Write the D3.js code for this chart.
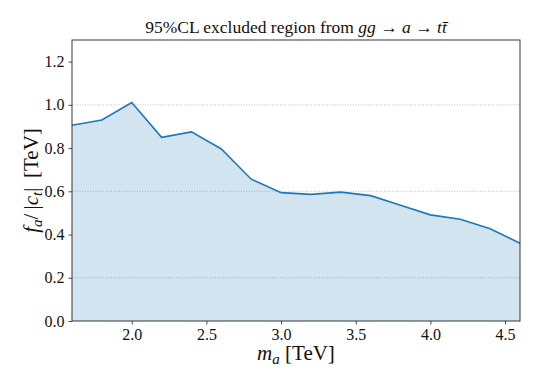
<!DOCTYPE html>
<html>
<head>
<meta charset="utf-8">
<script src="https://cdn.jsdelivr.net/npm/d3@7/dist/d3.min.js"></script>
<style>
body { margin: 0; background: #fff; }
</style>
</head>
<body>
<div id="chart"></div>
<script>
var w = 545, h = 389;
var margin = {left: 72, right: 25, top: 40, bottom: 68};
var serif = "'Liberation Serif', serif";

var mass = [1.6, 1.8, 2.0, 2.2, 2.4, 2.6, 2.8, 3.0, 3.2, 3.4, 3.6, 3.8, 4.0, 4.2, 4.4, 4.6];
var fa = [0.906, 0.930, 1.011, 0.850, 0.875, 0.796, 0.656, 0.594, 0.586, 0.596, 0.580, 0.536, 0.491, 0.471, 0.427, 0.360];
var xticks = [2.0, 2.5, 3.0, 3.5, 4.0, 4.5];
var yticks = [0.0, 0.2, 0.4, 0.6, 0.8, 1.0, 1.2];
var ygrid = [0.2, 0.6, 1.0];

var svg = d3.select("#chart")
    .append("svg")
    .attr("width", w)
    .attr("height", h)
    .attr("font-family", serif);

var x = d3.scaleLinear()
    .domain([1.6, 4.6])
    .range([margin.left, w - margin.right]);
var y = d3.scaleLinear()
    .domain([0, 1.3])
    .range([h - margin.bottom, margin.top]);

var pts = mass.map(function(m, i) { return {m: m, v: fa[i]}; });

// dotted grid
svg.append("g")
    .selectAll("line")
    .data(ygrid)
    .enter()
    .append("line")
    .attr("x1", x(1.6)).attr("x2", x(4.6))
    .attr("y1", function(d) { return y(d); })
    .attr("y2", function(d) { return y(d); })
    .attr("stroke", "#b0b0b0")
    .attr("stroke-width", 0.8)
    .attr("stroke-dasharray", "1,1.6");

var area = d3.area()
    .x(function(d) { return x(d.m); })
    .y0(y(0))
    .y1(function(d) { return y(d.v); });
svg.append("path")
    .datum(pts)
    .attr("d", area)
    .attr("fill", "#1f77b4")
    .attr("fill-opacity", 0.2)
    .attr("stroke", "none");

var line = d3.line()
    .x(function(d) { return x(d.m); })
    .y(function(d) { return y(d.v); });
svg.append("path")
    .datum(pts)
    .attr("d", line)
    .attr("fill", "none")
    .attr("stroke", "#1f77b4")
    .attr("stroke-width", 1.6);

// axes
var xAxis = d3.axisBottom(x).tickValues(xticks).tickSize(3.5).tickPadding(4)
    .tickFormat(d3.format(".1f"));
var yAxis = d3.axisLeft(y).tickValues(yticks).tickSize(3.5).tickPadding(4)
    .tickFormat(d3.format(".1f"));

function styleAxis(g) {
    g.attr("font-family", serif).attr("font-size", 16);
    g.select(".domain").remove();
    g.selectAll(".tick line").attr("stroke", "#222").attr("stroke-width", 0.8);
    g.selectAll(".tick text").attr("fill", "#111");
}

svg.append("g")
    .attr("transform", "translate(0," + y(0) + ")")
    .call(xAxis)
    .call(styleAxis);
svg.append("g")
    .attr("transform", "translate(" + x(1.6) + ",0)")
    .call(yAxis)
    .call(styleAxis);

svg.append("rect")
    .attr("x", x(1.6)).attr("y", y(1.3))
    .attr("width", x(4.6) - x(1.6))
    .attr("height", y(0) - y(1.3))
    .attr("fill", "none")
    .attr("stroke", "#222")
    .attr("stroke-width", 0.9);

// title
var title = svg.append("text")
    .attr("x", (x(1.6) + x(4.6)) / 2)
    .attr("y", 33)
    .attr("text-anchor", "middle")
    .attr("fill", "#111")
    .attr("font-family", serif)
    .attr("font-size", 17.5);
title.append("tspan").text("95%CL excluded region from ");
title.append("tspan").attr("font-style", "italic").text("gg");
title.append("tspan").text(" \u2192 ");
title.append("tspan").attr("font-style", "italic").text("a");
title.append("tspan").text(" \u2192 ");
title.append("tspan").attr("font-style", "italic").text("tt\u0304");

// x label
var xl = svg.append("text")
    .attr("x", (x(1.6) + x(4.6)) / 2)
    .attr("y", 360)
    .attr("text-anchor", "middle")
    .attr("fill", "#111")
    .attr("font-family", serif)
    .attr("font-size", 21);
xl.append("tspan").attr("font-style", "italic").text("m");
xl.append("tspan").attr("font-style", "italic").attr("font-size", 15).attr("dy", 4).text("a");
xl.append("tspan").attr("dy", -4).text(" [TeV]");

// y label
var yl = svg.append("text")
    .attr("transform", "translate(38," + ((y(0) + y(1.3)) / 2) + ") rotate(-90)")
    .attr("text-anchor", "middle")
    .attr("fill", "#111")
    .attr("font-family", serif)
    .attr("font-size", 21);
yl.append("tspan").attr("font-style", "italic").text("f");
yl.append("tspan").attr("font-style", "italic").attr("font-size", 15).attr("dy", 4).text("a");
yl.append("tspan").attr("dy", -4).text("/\u2009|");
yl.append("tspan").attr("font-style", "italic").text("c");
yl.append("tspan").attr("font-style", "italic").attr("font-size", 15).attr("dy", 4).text("t");
yl.append("tspan").attr("dy", -4).text("|\u2009 [TeV]");
</script>
</body>
</html>
